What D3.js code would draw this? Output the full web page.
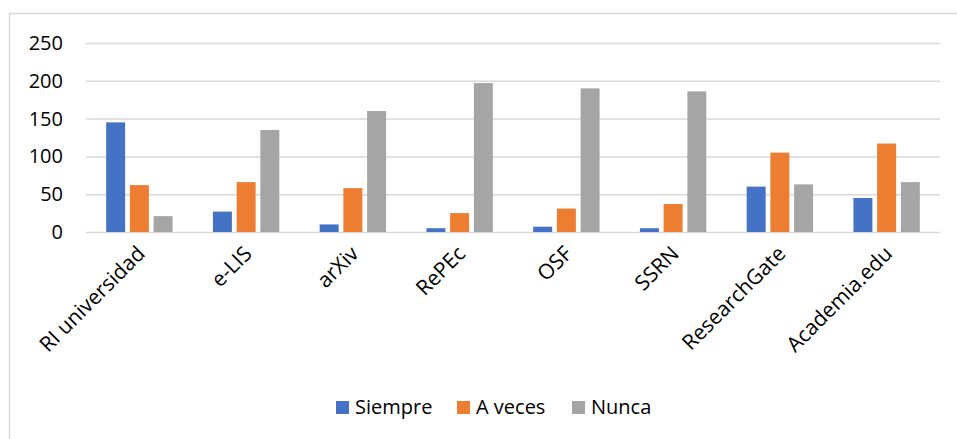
<!DOCTYPE html>
<html><head><meta charset="utf-8">
<script src="https://cdn.jsdelivr.net/npm/d3@7"></script>
<style>html,body{margin:0;padding:0;background:#fff;}svg{display:block;font-family:"Open Sans",sans-serif;}</style>
</head><body>
<svg id="c" width="957" height="439"></svg>
<script>
const categories = ["RI universidad","e-LIS","arXiv","RePEc","OSF","SSRN","ResearchGate","Academia.edu"];
const seriesNames = ["Siempre","A veces","Nunca"];
const siempre = [145, 27, 10, 5, 7, 5, 60, 45];
const aVeces = [62, 66, 58, 25, 31, 37, 105, 117];
const nunca = [21, 135, 160, 197, 190, 186, 63, 66];
const yTicks = [0, 50, 100, 150, 200, 250];
const colors = ["#4472C4", "#ED7D31", "#A5A5A5"];

const values = [siempre, aVeces, nunca];
const svg = d3.select("#c");
const mLeft = 86, mRight = 940, mTop = 43, mBottom = 232;

// outer border
svg.append("rect").attr("x", 9.5).attr("y", 13.5).attr("width", 960).attr("height", 440)
  .attr("fill", "none").attr("stroke", "#d9d9d9").attr("stroke-width", 1.5);

const x = d3.scaleBand().domain(categories).range([mLeft, mRight]).padding(0);
const xs = d3.scaleBand().domain(seriesNames).range([0, x.bandwidth()]).paddingInner(0.2).paddingOuter(0.85);
const y = d3.scaleLinear().domain([0, 250]).range([mBottom, mTop]);

// gridlines
const yAxis = d3.axisLeft(y).tickValues(yTicks).tickSize(-(mRight - mLeft)).tickPadding(23);
const gy = svg.append("g").attr("transform", `translate(${mLeft},0)`).call(yAxis);
gy.select(".domain").remove();
gy.selectAll(".tick line").attr("stroke", "#d9d9d9").attr("stroke-width", 1.5);
gy.selectAll(".tick text").attr("fill", "#000").style("font-size", "20px").style("font-family", "'Open Sans', sans-serif");

// bars
const groups = svg.append("g").selectAll("g").data(categories).join("g")
  .attr("transform", d => `translate(${x(d)},0)`);
groups.selectAll("rect").data((d, i) => seriesNames.map((s, j) => ({s, v: values[j][i], c: colors[j]})))
  .join("rect")
  .attr("x", d => xs(d.s)).attr("width", xs.bandwidth())
  .attr("y", d => y(d.v)).attr("height", d => y(0) - y(d.v))
  .attr("fill", d => d.c);

// x axis labels
const xAxis = d3.axisBottom(x).tickSize(0).tickPadding(0);
const gx = svg.append("g").attr("transform", `translate(0,${mBottom})`).call(xAxis);
gx.select(".domain").remove();
gx.selectAll(".tick text")
  .style("font-size", "21px").style("font-family", "'Open Sans', sans-serif").attr("fill", "#000")
  .attr("text-anchor", "end").attr("dy", null).attr("y", 0)
  .attr("transform", "translate(7,23) rotate(-45)");

// legend
const legendItems = [
  {name: seriesNames[0], c: colors[0], x: 336},
  {name: seriesNames[1], c: colors[1], x: 457},
  {name: seriesNames[2], c: colors[2], x: 572}
];
const lg = svg.append("g");
legendItems.forEach(it => {
  lg.append("rect").attr("x", it.x).attr("y", 401).attr("width", 13).attr("height", 13).attr("fill", it.c);
  lg.append("text").attr("x", it.x + 19).attr("y", 414).text(it.name)
    .style("font-size", "20px").attr("fill", "#000");
});
</script>
</body></html>
